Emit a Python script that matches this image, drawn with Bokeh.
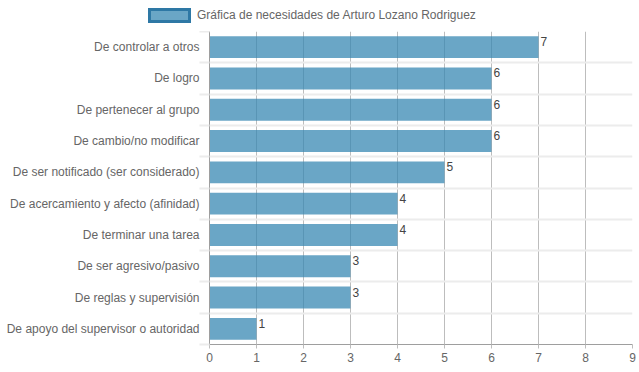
from bokeh.plotting import figure
from bokeh.layouts import column
from bokeh.models import (Range1d, FixedTicker, Grid, ColumnDataSource, Div)
from bokeh.core.properties import value
from bokeh.embed import file_html
from bokeh.resources import INLINE

categories = [
    "De controlar a otros",
    "De logro",
    "De pertenecer al grupo",
    "De cambio/no modificar",
    "De ser notificado (ser considerado)",
    "De acercamiento y afecto (afinidad)",
    "De terminar una tarea",
    "De ser agresivo/pasivo",
    "De reglas y supervisión",
    "De apoyo del supervisor o autoridad",
]
values = [7, 6, 6, 6, 5, 4, 4, 3, 3, 1]
x_ticks = [0, 1, 2, 3, 4, 5, 6, 7, 8, 9]
series_name = "Gráfica de necesidades de Arturo Lozano Rodriguez"

FONT = "Liberation Sans"
BAR = (56, 136, 179)

pos = [i + 0.5 for i in range(len(categories))]
src = ColumnDataSource(dict(y=pos, v=values, cat=categories,
                            lab=[str(v) for v in values],
                            ty=[p - 0.35 for p in pos]))

# ---- legend strip (HTML) ----
legend_html = (
    '<div style="position:relative;width:639px;height:31px;margin:0;padding:0;">'
    '<div style="position:absolute;left:148px;top:8px;width:43px;height:15px;'
    'box-sizing:border-box;border:3px solid #2e78a5;'
    'background:rgba(%d,%d,%d,0.75);"></div>'
    '<div style="position:absolute;left:197px;top:8px;height:15px;line-height:15px;'
    "font-family:'Liberation Sans',Arial,sans-serif;font-size:12px;color:#666666;"
    'white-space:nowrap;">%s</div></div>' % (BAR[0], BAR[1], BAR[2], series_name)
)
lg = Div(text=legend_html, width=639, height=31, margin=(0, 0, 0, 0))

# ---- main chart ----
p = figure(width=639, height=341, output_backend="svg", toolbar_location=None,
           x_range=Range1d(0, 9), y_range=Range1d(len(categories), 0),
           min_border_left=209, min_border_right=7, min_border_top=0,
           min_border_bottom=28)
p.outline_line_color = None
p.xgrid.visible = False
p.ygrid.visible = False

vgrid = Grid(dimension=0, ticker=FixedTicker(ticks=x_ticks),
             grid_line_color="#bdbdbd", grid_line_width=1)
hgrid = Grid(dimension=1, ticker=FixedTicker(ticks=list(range(len(categories) + 1))),
             grid_line_color="#ececec", grid_line_width=2)
p.add_layout(vgrid)
p.add_layout(hgrid)

p.hbar(y="y", right="v", left=0, height=0.7, source=src,
       fill_color=BAR, fill_alpha=0.75, line_color=None)

p.text(x="v", y="ty", text="lab", source=src, x_offset=2, y_offset=1,
       text_baseline="top", text_align="left", text_font=value(FONT),
       text_font_size="12px", text_color="#444444")

xa = p.xaxis[0]
xa.ticker = FixedTicker(ticks=x_ticks)
xa.axis_line_color = "#9e9e9e"
xa.major_tick_in = 0
xa.major_tick_out = 4
xa.major_tick_line_color = "#bdbdbd"
xa.minor_tick_line_color = None
xa.major_label_standoff = 4
xa.major_label_text_font = FONT
xa.major_label_text_font_size = "12px"
xa.major_label_text_color = "#666666"

ya = p.yaxis[0]
ya.ticker = FixedTicker(ticks=pos, minor_ticks=list(range(len(categories) + 1)))
ya.major_label_overrides = {p_: c for p_, c in zip(pos, categories)}
ya.axis_line_color = "#9e9e9e"
ya.major_tick_in = 0
ya.major_tick_out = 0
ya.minor_tick_in = 0
ya.minor_tick_out = 10
ya.minor_tick_line_color = "#ececec"
ya.minor_tick_line_width = 2
ya.major_label_standoff = 0
ya.major_label_text_font = FONT
ya.major_label_text_font_size = "12px"
ya.major_label_text_color = "#666666"

layout = column(lg, p, spacing=0)
open("out.html", "w").write(file_html(layout, INLINE))
